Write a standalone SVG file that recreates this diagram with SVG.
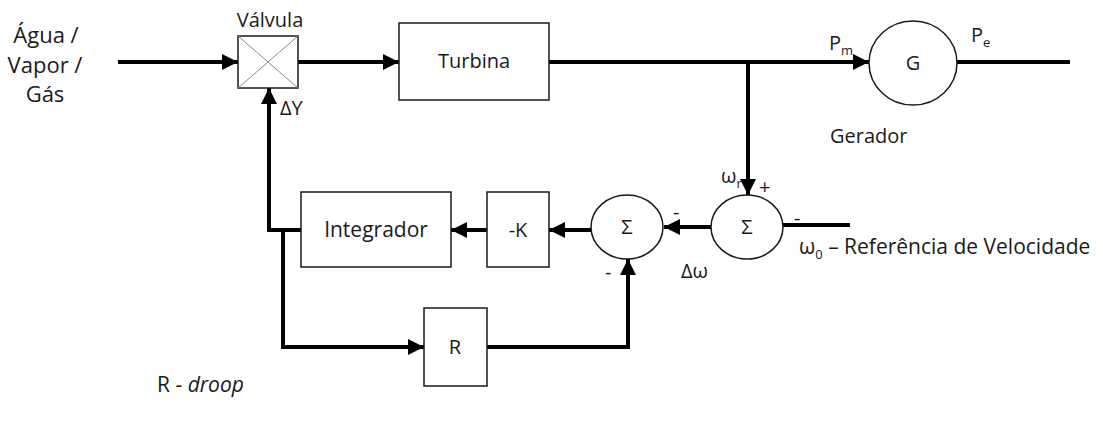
<svg xmlns="http://www.w3.org/2000/svg" width="1103" height="421" viewBox="0 0 1103 421">
<defs>
<marker id="ah" markerWidth="4" markerHeight="4" refX="4" refY="2" orient="auto" markerUnits="strokeWidth"><path d="M0,0 L4,2 L0,4 Z" fill="#000"/></marker>
<style>
.t{font-family:"Open Sans","Noto Sans",sans-serif;font-size:20px;fill:#1a1a1a}
.l{font-size:22px}
.s{font-family:"Open Sans","Noto Sans",sans-serif;font-size:13px;fill:#1a1a1a}
.box{fill:#fff;stroke:#1a1a1a;stroke-width:1.5}
.w{fill:none;stroke:#000;stroke-width:4}
.wa{fill:none;stroke:#000;stroke-width:4;marker-end:url(#ah)}
</style>
</defs>
<rect width="1103" height="421" fill="#fff"/>
<g id="labels-left">
<text class="t l" x="46" y="43" text-anchor="middle">Água /</text>
<text class="t l" x="45" y="73" text-anchor="middle">Vapor /</text>
<text class="t l" x="45" y="102" text-anchor="middle">Gás</text>
</g>
<g id="connectors">
<path class="wa" d="M118,62 H238"/>
<path class="wa" d="M298,62 H399"/>
<path class="w" d="M549,62 H748"/>
<path class="wa" d="M748,62 H869"/>
<path class="w" d="M957,62 H1070"/>
<path class="wa" d="M748,62 V195"/>
<path class="w" d="M783,225 H850"/>
<path class="wa" d="M711,227 H664"/>
<path class="wa" d="M591,230 H549"/>
<path class="wa" d="M487,230 H451"/>
<path class="wa" d="M301,230 H269 V88"/>
<path class="wa" d="M283,230 V347 H424"/>
<path class="wa" d="M487,347 H628 V259"/>
</g>
<g id="valvula">
<rect class="box" x="238" y="36" width="60" height="52"/>
<path d="M238,36 L298,88 M298,36 L238,88" stroke="#888" stroke-width="1"/>
<text class="t" x="270" y="27" text-anchor="middle">Válvula</text>
<text class="t" x="280" y="115">ΔY</text>
</g>
<g id="turbina">
<rect class="box" x="399" y="23" width="150" height="77"/>
<text class="t" x="474" y="68" text-anchor="middle">Turbina</text>
</g>
<g id="gerador">
<ellipse class="box" cx="913" cy="63" rx="44" ry="42"/>
<text class="t" x="913" y="70" text-anchor="middle">G</text>
<text class="t" x="829" y="50">P<tspan class="s" dy="5">m</tspan></text>
<text class="t" x="971" y="42">P<tspan class="s" dy="5">e</tspan></text>
<text class="t" x="830" y="143">Gerador</text>
</g>
<g id="soma2">
<ellipse class="box" cx="747" cy="227" rx="36" ry="32"/>
<text class="t" x="747" y="234" text-anchor="middle">Σ</text>
<text class="t" x="721" y="183">ω<tspan class="s" dy="5">r</tspan></text>
<text class="t" x="759" y="194">+</text>
<text class="t" x="794" y="225">-</text>
<text class="t" x="799" y="254" style="font-size:21px">ω<tspan class="s" dy="5">0</tspan><tspan dy="-5"> – Referência de Velocidade</tspan></text>
</g>
<g id="soma1">
<ellipse class="box" cx="627" cy="227" rx="36" ry="32"/>
<text class="t" x="627" y="234" text-anchor="middle">Σ</text>
<text class="t" x="673" y="219">-</text>
<text class="t" x="681" y="278">Δω</text>
<text class="t" x="605" y="279">-</text>
</g>
<g id="ganho-k">
<rect class="box" x="487" y="192" width="62" height="75"/>
<text class="t" x="518" y="237" text-anchor="middle">-K</text>
</g>
<g id="integrador">
<rect class="box" x="301" y="192" width="150" height="75"/>
<text class="t" x="376" y="237" text-anchor="middle" style="font-size:21px">Integrador</text>
</g>
<g id="droop">
<rect class="box" x="424" y="308" width="63" height="78"/>
<text class="t" x="455" y="354" text-anchor="middle">R</text>
</g>
<text class="t" x="157" y="392" style="font-size:21px">R - <tspan font-style="italic">droop</tspan></text>
</svg>
